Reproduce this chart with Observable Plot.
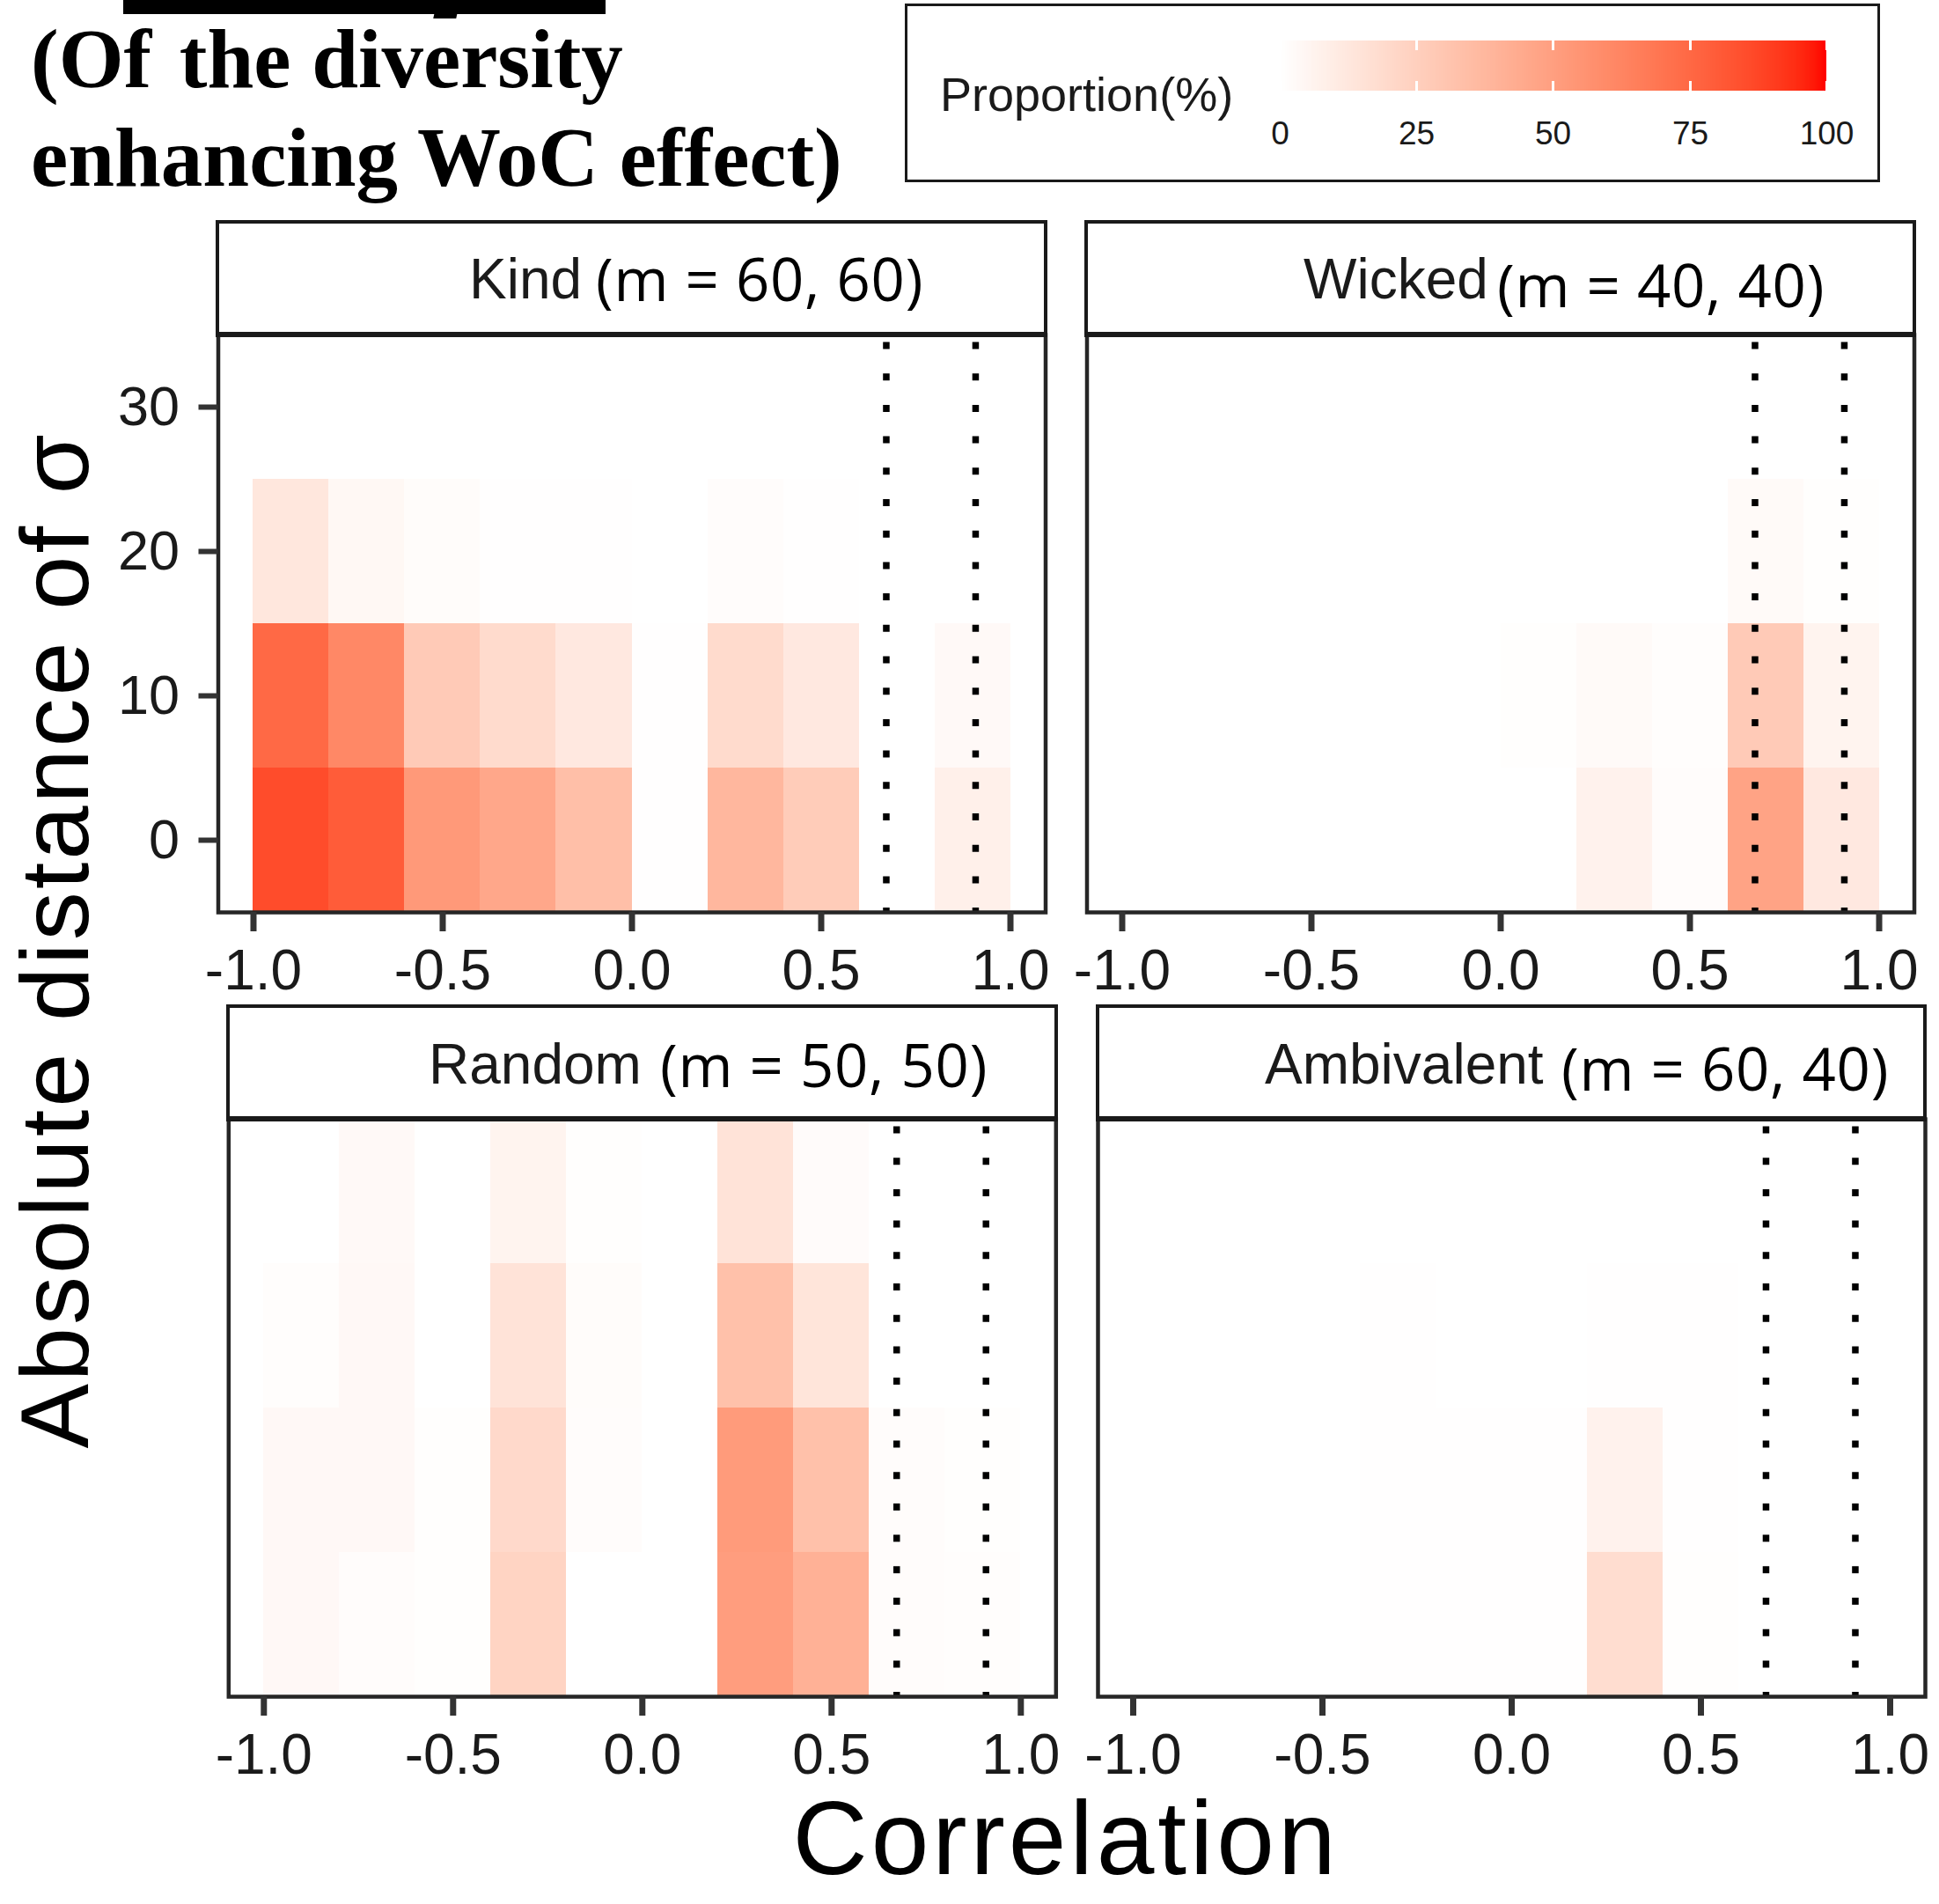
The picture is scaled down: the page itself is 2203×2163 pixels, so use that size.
<!DOCTYPE html>
<html>
<head>
<meta charset="utf-8">
<script src="https://cdn.jsdelivr.net/npm/d3@7"></script>
<script src="https://cdn.jsdelivr.net/npm/@observablehq/plot@0.6"></script>
<style>
html, body { margin: 0; padding: 0; background: #fff; }
#page { position: relative; width: 2203px; height: 2163px; overflow: hidden; background: #fff; }
.abs { position: absolute; }
.strip { position: absolute; box-sizing: border-box; background: #fff; border: 4.5px solid #1a1a1a; border-bottom-width: 6px; }
#legend .tick line { stroke: #fff !important; stroke-width: 3px; stroke-dasharray: 11 35 11 80; }
#legend text { font-size: 37px; font-family: "Liberation Sans", Arial, sans-serif; fill: #1a1a1a; }
</style>
</head>
<body>
<div id="page"></div>
<script>
// ---------------- data ----------------
const corrBins = [-0.9, -0.7, -0.5, -0.3, -0.1, 0.1, 0.3, 0.5, 0.7, 0.9];
const sigmaBins = [0, 10, 20, 30];

// rows follow sigmaBins, columns follow corrBins; values are Proportion(%)
const kindProp = [
  [86, 80, 53, 46, 34, 0.5, 38, 27, null, 8],
  [75, 61, 28, 19, 12, 0.5, 19, 12, null, 3],
  [13, 4, 1.8, 0.4, 0.4, null, 1.5, 0.5, null, null],
  [null, null, null, null, null, null, null, null, null, null]
];
const wickedProp = [
  [null, null, null, null, null, null, 7, 1.5, 48, 12],
  [null, null, null, null, null, 0.8, 2.5, 1.2, 28, 6],
  [null, null, null, null, null, null, null, null, 2.5, 0.8],
  [null, null, null, null, null, null, null, null, null, null]
];
const randomProp = [
  [3.5, 1.5, 0.6, 23, null, null, 51, 41, 1.5, 1.2],
  [3.5, 3.5, 0.6, 20, 1.5, null, 52, 33, 1.5, 0.8],
  [1.2, 3.5, null, 15, 1.8, null, 33, 14, null, null],
  [null, 3, null, 6, 0.7, null, 15, 2, null, null]
];
const ambivalentProp = [
  [null, null, null, 0.3, 0.3, 0.3, 18, 0.8, null, null],
  [null, null, null, 0.3, 0.3, 0.3, 7, 0.3, null, null],
  [null, null, null, 0.3, null, null, 0.5, 0.3, null, null],
  [null, null, null, null, null, null, null, null, null, null]
];

const panelNames = ["Kind", "Wicked", "Random", "Ambivalent"];
const panelM = ["(m = 60, 60)", "(m = 40, 40)", "(m = 50, 50)", "(m = 60, 40)"];
const refLines = [0.672, 0.908];
const xTicks = [-1, -0.5, 0, 0.5, 1];
const yTicks = [0, 10, 20, 30];
const legendTicks = [0, 25, 50, 75, 100];

// ---------------- scales / styles ----------------
const binHalfW = 0.1, binHalfH = 5;
const xDomain = [-1.093, 1.093];
const yDomain = [-5, 35];
const colorScale = { type: "linear", domain: [0, 100], range: ["white", "red"], interpolate: "lab" };
const SANS = "'Liberation Sans', Arial, Helvetica, sans-serif";

const page = document.getElementById("page");
function place(node, left, top, w, h) {
  const div = document.createElement("div");
  div.className = "abs";
  div.style.left = left + "px";
  div.style.top = top + "px";
  if (w != null) div.style.width = w + "px";
  if (h != null) div.style.height = h + "px";
  if (node) div.appendChild(node);
  page.appendChild(div);
  return div;
}

const layout = [
  { values: kindProp, svgLeft: 0, svgTop: 250, width: 1200, height: 888, plotLeft: 247.5, plotRight: 1187.5, yAxis: true,
    nameX: 533, nameY: 339, mX: 677, mY: 342 },
  { values: wickedProp, svgLeft: 1220, svgTop: 250, width: 983, height: 888, plotLeft: 1234.5, plotRight: 2174.5, yAxis: false,
    nameX: 1481, nameY: 339, mX: 1701, mY: 349 },
  { values: randomProp, svgLeft: 0, svgTop: 1141, width: 1215, height: 899, plotLeft: 259.3, plotRight: 1199.3, yAxis: false,
    nameX: 487, nameY: 1231, mX: 750, mY: 1235 },
  { values: ambivalentProp, svgLeft: 1220, svgTop: 1141, width: 983, height: 899, plotLeft: 1247, plotRight: 2187, yAxis: false,
    nameX: 1437, nameY: 1231, mX: 1774, mY: 1239 }
];
const stripH = 130, plotH = 656;

layout.forEach((L, k) => {
  const cells = [];
  sigmaBins.forEach((s, i) => corrBins.forEach((c, j) => {
    const v = L.values[i][j];
    if (v != null) cells.push({ c, s, v });
  }));
  const marks = [
    Plot.rect(cells, {
      x1: d => d.c - binHalfW, x2: d => d.c + binHalfW,
      y1: d => d.s - binHalfH, y2: d => d.s + binHalfH,
      fill: "v", shapeRendering: "crispEdges"
    }),
    Plot.ruleX(refLines, { stroke: "#000", strokeWidth: 7.5, strokeDasharray: "8 27.7", strokeDashoffset: 27.2 }),
    Plot.frame({ stroke: "#262626", strokeWidth: 4.5 }),
    Plot.axisX({ ticks: xTicks, tickSize: 22, tickPadding: 20, tickFormat: d => d.toFixed(1),
      fontSize: 64, stroke: "#333", strokeWidth: 7, fill: "#1a1a1a", label: null })
  ];
  if (L.yAxis) {
    marks.push(Plot.axisY({ ticks: yTicks, tickSize: 22, tickPadding: 22, tickFormat: d => String(d),
      fontSize: 63, stroke: "#333", strokeWidth: 6, fill: "#1a1a1a", label: null }));
  }
  const svg = Plot.plot({
    width: L.width, height: L.height,
    marginTop: stripH, marginBottom: L.height - stripH - plotH,
    marginLeft: L.plotLeft - L.svgLeft,
    marginRight: L.svgLeft + L.width - L.plotRight,
    x: { domain: xDomain },
    y: { domain: yDomain, axis: L.yAxis ? undefined : null },
    color: colorScale,
    style: `overflow:visible;background:transparent;font-family:${SANS};`,
    marks
  });
  place(svg, L.svgLeft, L.svgTop, L.width, L.height);

  const strip = document.createElement("div");
  strip.className = "strip";
  strip.style.left = (L.plotLeft - 2.25) + "px";
  strip.style.top = L.svgTop + "px";
  strip.style.width = (L.plotRight - L.plotLeft + 4.5) + "px";
  strip.style.height = (stripH + 3) + "px";
  page.appendChild(strip);
});

// ---------------- legend ----------------
const legendLeft = 1400;
const legend = Plot.legend({
  color: colorScale, label: null,
  width: 720, height: 180, marginTop: 46, marginBottom: 77,
  marginLeft: 1453.5 - legendLeft, marginRight: 720 - (2075 - legendLeft),
  ticks: legendTicks, tickSize: 32, tickFormat: d => String(d),
  style: `background:transparent;font-family:${SANS};font-size:37px;overflow:visible;`
});
const lw = place(legend, legendLeft, 0, 720, 180);
lw.id = "legend";

const box = document.createElement("div");
box.className = "abs";
Object.assign(box.style, { left: "1028px", top: "4px", width: "1108px", height: "203px", boxSizing: "border-box",
  border: "3.5px solid #1a1a1a", background: "transparent" });
page.appendChild(box);

// clipped heading remnant at the very top
const bar = document.createElement("div");
bar.className = "abs";
Object.assign(bar.style, { left: "140px", top: "0px", width: "548px", height: "16px", background: "#000" });
page.appendChild(bar);
const bit = document.createElement("div");
bit.className = "abs";
Object.assign(bit.style, { left: "493px", top: "14px", width: "26px", height: "7px", background: "#000", transform: "skewX(-12deg)" });
page.appendChild(bit);

// ---------------- text overlay ----------------
const ov = d3.create("svg")
  .attr("width", 2203).attr("height", 2163)
  .style("position", "absolute").style("left", "0px").style("top", "0px")
  .style("pointer-events", "none").style("overflow", "visible");

function txt(s, x, y, o = {}) {
  const t = ov.append("text")
    .attr("x", x).attr("y", y)
    .attr("font-family", o.family || SANS)
    .attr("font-size", o.size)
    .attr("font-weight", o.weight || "normal")
    .attr("fill", o.fill || "#000")
    .attr("text-anchor", o.anchor || "start")
    .style("white-space", "pre")
    .text(s);
  if (o.ls) t.attr("letter-spacing", o.ls);
  if (o.transform) t.attr("transform", o.transform);
  return t;
}
const SERIF = "'Liberation Serif', 'Times New Roman', serif";
txt("(Of \u200Athe diversity", 35, 99, { family: SERIF, size: 95, weight: "bold" });
txt("enhancing WoC effect)", 35, 211, { family: SERIF, size: 95, weight: "bold" });
txt("Proportion(%)", 1068, 126, { size: 54, fill: "#1a1a1a" });

layout.forEach((L, k) => {
  txt(panelNames[k], L.nameX, L.nameY, { size: 64, fill: "#1a1a1a" });
  txt(panelM[k], L.mX, L.mY, { family: "'Open Sans', sans-serif", size: 67, fill: "#000", ls: 0.8 });
});

txt("Absolute distance of σ", 0, 0, { size: 110, anchor: "middle", ls: 3, transform: "translate(100,1068) rotate(-90)" });
txt("Correlation", 1211, 2129, { size: 118, anchor: "middle", ls: 4 });

page.appendChild(ov.node());
</script>
</body>
</html>
